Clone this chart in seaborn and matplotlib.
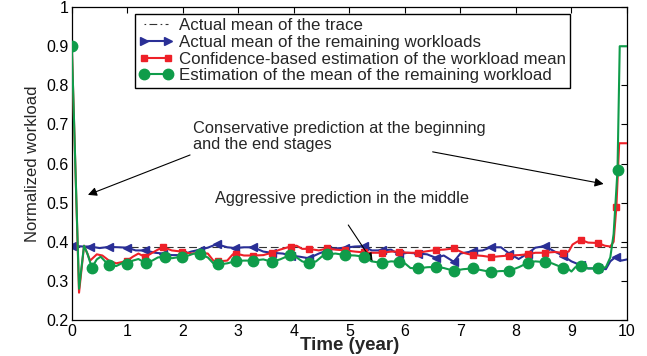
import numpy as np
import pandas as pd
import matplotlib
matplotlib.use("Agg")
import matplotlib.pyplot as plt
import seaborn as sns
from matplotlib.lines import Line2D

# ---- data -----------------------------------------------------------------
trace_mean = 0.387

blue_t = [0.0, 0.2, 0.33, 0.5, 0.67, 0.85, 1.0, 1.15, 1.32, 1.5, 1.65, 1.8, 1.98,
          2.15, 2.31, 2.45, 2.61, 2.8, 2.94, 3.1, 3.27, 3.45, 3.6, 3.8, 3.94,
          4.1, 4.27, 4.45, 4.6, 4.75, 4.93, 5.1, 5.26, 5.4, 5.59, 5.75, 5.89,
          6.05, 6.24, 6.4, 6.56, 6.7, 6.88, 7.0, 7.22, 7.4, 7.55, 7.73, 7.88,
          8.05, 8.21, 8.35, 8.52, 8.7, 8.84, 9.0, 9.17, 9.3, 9.48, 9.62, 9.7,
          9.8, 9.9, 10.0]
blue_v = [0.39, 0.388, 0.388, 0.384, 0.387, 0.386, 0.385, 0.378, 0.378, 0.372,
          0.37, 0.366, 0.366, 0.375, 0.38, 0.385, 0.394, 0.386, 0.384, 0.386,
          0.386, 0.375, 0.372, 0.37, 0.365, 0.362, 0.358, 0.37, 0.378, 0.383,
          0.385, 0.388, 0.389, 0.378, 0.378, 0.38, 0.368, 0.372, 0.37, 0.368,
          0.359, 0.365, 0.349, 0.37, 0.376, 0.378, 0.386, 0.386, 0.37, 0.356,
          0.37, 0.385, 0.389, 0.375, 0.365, 0.35, 0.34, 0.332, 0.332, 0.33,
          0.35, 0.362, 0.352, 0.355]
blue_marks = [0.0, 0.33, 0.67, 1.0, 1.32, 1.65, 1.98, 2.31, 2.61, 2.94, 3.27,
              3.6, 3.94, 4.27, 4.6, 4.93, 5.26, 5.59, 5.89, 6.24, 6.56, 6.88,
              7.22, 7.55, 7.88, 8.21, 8.52, 8.84, 9.17, 9.48, 9.8]

red_t = [0.0, 0.13, 0.22, 0.28, 0.33, 0.45, 0.55, 0.67, 0.8, 0.9, 1.0, 1.1, 1.2,
         1.32, 1.45, 1.55, 1.65, 1.8, 1.98, 2.15, 2.31, 2.45, 2.55, 2.64, 2.8,
         2.9, 2.96, 3.1, 3.27, 3.45, 3.6, 3.75, 3.94, 4.05, 4.15, 4.27, 4.45,
         4.6, 4.75, 4.93, 5.1, 5.26, 5.4, 5.59, 5.75, 5.89, 6.05, 6.24, 6.4,
         6.56, 6.7, 6.88, 7.05, 7.22, 7.4, 7.55, 7.7, 7.88, 8.05, 8.21, 8.35,
         8.52, 8.7, 8.84, 8.95, 9.02, 9.1, 9.17, 9.3, 9.48, 9.6, 9.7, 9.76,
         9.81, 9.86, 10.0]
red_v = [0.9, 0.27, 0.39, 0.37, 0.352, 0.368, 0.365, 0.352, 0.345, 0.348, 0.352,
         0.362, 0.37, 0.361, 0.372, 0.38, 0.386, 0.378, 0.375, 0.37, 0.372,
         0.37, 0.352, 0.35, 0.352, 0.368, 0.37, 0.365, 0.365, 0.366, 0.372,
         0.38, 0.388, 0.39, 0.382, 0.382, 0.378, 0.383, 0.38, 0.378, 0.375,
         0.373, 0.372, 0.372, 0.375, 0.375, 0.372, 0.372, 0.376, 0.379, 0.38,
         0.383, 0.372, 0.366, 0.364, 0.361, 0.363, 0.365, 0.366, 0.368, 0.372,
         0.372, 0.374, 0.372, 0.375, 0.393, 0.4, 0.405, 0.398, 0.397, 0.39,
         0.388, 0.4, 0.49, 0.652, 0.652]
red_marks = [1.0, 1.32, 1.65, 1.98, 2.31, 2.64, 2.96, 3.27, 3.6, 3.94, 4.27,
             4.6, 4.93, 5.26, 5.59, 5.89, 6.24, 6.56, 6.88, 7.22, 7.55, 7.88,
             8.21, 8.52, 8.84, 9.17, 9.48, 9.81]

green_t = [0.0, 0.13, 0.22, 0.28, 0.36, 0.45, 0.52, 0.6, 0.67, 0.8, 0.9, 1.0,
           1.1, 1.2, 1.25, 1.34, 1.45, 1.55, 1.67, 1.8, 1.98, 2.1, 2.2, 2.31,
           2.45, 2.55, 2.64, 2.8, 2.96, 3.1, 3.27, 3.45, 3.6, 3.75, 3.93, 4.05,
           4.15, 4.27, 4.4, 4.5, 4.6, 4.75, 4.93, 5.1, 5.26, 5.4, 5.59, 5.75,
           5.89, 6.0, 6.1, 6.24, 6.4, 6.56, 6.7, 6.88, 7.05, 7.22, 7.4, 7.55,
           7.7, 7.88, 8.05, 8.21, 8.35, 8.52, 8.65, 8.84, 8.95, 9.0, 9.07, 9.17,
           9.3, 9.48, 9.62, 9.7, 9.76, 9.83, 9.87, 10.0]
green_v = [0.9, 0.28, 0.39, 0.37, 0.334, 0.355, 0.362, 0.35, 0.341, 0.338, 0.345,
           0.343, 0.352, 0.356, 0.352, 0.347, 0.352, 0.36, 0.362, 0.358, 0.362,
           0.365, 0.37, 0.368, 0.36, 0.345, 0.342, 0.345, 0.351, 0.352, 0.352,
           0.355, 0.349, 0.355, 0.366, 0.36, 0.35, 0.345, 0.35, 0.362, 0.368,
           0.37, 0.366, 0.365, 0.362, 0.35, 0.346, 0.35, 0.349, 0.345, 0.333,
           0.332, 0.335, 0.336, 0.333, 0.326, 0.33, 0.332, 0.327, 0.323, 0.325,
           0.326, 0.335, 0.346, 0.35, 0.348, 0.345, 0.334, 0.33, 0.324, 0.335,
           0.337, 0.332, 0.332, 0.335, 0.36, 0.42, 0.583, 0.9, 0.9]
green_marks = [0.0, 0.36, 0.67, 1.0, 1.34, 1.67, 1.98, 2.31, 2.64, 2.96, 3.27,
               3.6, 3.93, 4.27, 4.6, 4.93, 5.26, 5.59, 5.89, 6.24, 6.56, 6.88,
               7.22, 7.55, 7.88, 8.21, 8.52, 8.84, 9.17, 9.48, 9.83]

labels = ["Actual mean of the trace",
          "Actual mean of the remaining workloads",
          "Confidence-based estimation of the workload mean",
          "Estimation of the mean of the remaining workload"]
x_ticks = list(range(0, 11))
y_ticks = [0.2, 0.3, 0.4, 0.5, 0.6, 0.7, 0.8, 0.9, 1.0]
y_ticklabels = ["0.2", "0.3", "0.4", "0.5", "0.6", "0.7", "0.8", "0.9", "1"]

# ---- style ----------------------------------------------------------------
sns.set_theme(style="white")
plt.rcParams["font.family"] = ["Liberation Sans", "DejaVu Sans"]
plt.rcParams["xtick.direction"] = "in"
plt.rcParams["ytick.direction"] = "in"

BLUE = "#2a2f96"
RED = "#ee2028"
GREEN = "#0f9c4a"
TXT = 11.75

fig = plt.figure(figsize=(6.47, 3.56), dpi=100)
ax = fig.add_axes([0.111, 0.101, 0.858, 0.879])


def series_frame(t, v):
    return pd.DataFrame({"t": t, "v": v})


def marker_frame(t, v, marks):
    t = np.asarray(t)
    v = np.asarray(v)
    sel = np.isin(t, marks)
    return pd.DataFrame({"t": t[sel], "v": v[sel]})


ax.axhline(trace_mean, color="#333333", lw=0.8, dashes=(7, 3.5), zorder=1)

for t, v, marks, col, mk, ms, z in [
        (blue_t, blue_v, blue_marks, BLUE, "<", 6, 2),
        (red_t, red_v, red_marks, RED, "s", 5, 3),
        (green_t, green_v, green_marks, GREEN, "o", 7.5, 4)]:
    sns.lineplot(data=series_frame(t, v), x="t", y="v", ax=ax, color=col,
                 lw=1.5, estimator=None, sort=False, zorder=z)
    mf = marker_frame(t, v, marks)
    ax.plot(mf["t"], mf["v"], ls="none", marker=mk, ms=ms, color=col,
            mec=col, zorder=z)

ax.set_xlim(0, 10)
ax.set_ylim(0.2, 1.0)
ax.set_xticks(x_ticks)
ax.set_yticks(y_ticks)
ax.set_yticklabels(y_ticklabels)
ax.tick_params(axis="both", which="both", direction="in", length=4, width=0.8,
               top=True, right=True, labelsize=11.5, colors="black", pad=2.5)
for s in ax.spines.values():
    s.set_color("black")
    s.set_linewidth(0.9)

ax.set_xlabel("Time (year)", fontsize=13.5, fontweight="bold", labelpad=-1)
ax.set_ylabel("Normalized workload", fontsize=12, labelpad=4)

# legend with MATLAB-like two-point handles
handles = [
    Line2D([0, 1], [0, 0], color="#333333", lw=0.8, dashes=(1.5, 3, 7, 3)),
    Line2D([0, 1], [0, 0], color=BLUE, lw=1.5, marker=">", ms=6),
    Line2D([0, 1], [0, 0], color=RED, lw=1.5, marker="s", ms=5),
    Line2D([0, 1], [0, 0], color=GREEN, lw=1.5, marker="o", ms=7.5),
]
leg = ax.legend(handles, labels, loc="upper left", bbox_to_anchor=(0.113, 0.978),
                fontsize=12.2, frameon=True, fancybox=False, framealpha=1,
                edgecolor="black", borderaxespad=0, handlelength=2.0,
                handletextpad=0.35, labelspacing=0.1, borderpad=0.25,
                numpoints=2)
leg.get_frame().set_linewidth(1.0)

# annotations
ax.text(2.18, 0.670, "Conservative prediction at the beginning\nand the end stages",
        fontsize=TXT, ha="left", va="center", linespacing=1.05)
arrow = dict(arrowstyle="-|>", color="black", lw=0.8, mutation_scale=13,
             shrinkA=0, shrinkB=0)
ax.annotate("", xy=(0.29, 0.52), xytext=(2.13, 0.622), arrowprops=arrow)
ax.annotate("", xy=(9.58, 0.548), xytext=(6.5, 0.63), arrowprops=arrow)
ax.text(2.58, 0.512, "Aggressive prediction in the middle", fontsize=TXT,
        ha="left", va="center")
ax.annotate("", xy=(5.42, 0.349), xytext=(4.98, 0.443), arrowprops=arrow)

fig.savefig("out.png", dpi=100)
